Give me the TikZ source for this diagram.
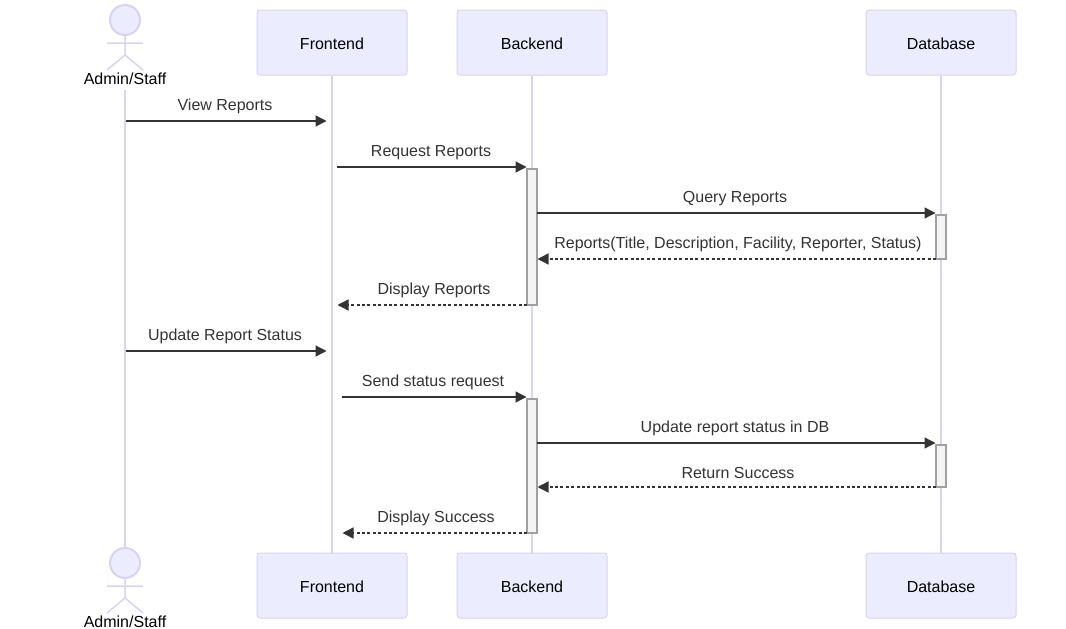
\documentclass[tikz,border=0pt]{standalone}
\usepackage{fontspec}
\setmainfont{Liberation Sans}
\usetikzlibrary{arrows.meta}
\definecolor{lifeC}{HTML}{DAD2F3}
\definecolor{fillC}{HTML}{ECECFF}
\definecolor{msgC}{HTML}{333333}
\definecolor{actC}{HTML}{F4F4F4}
\definecolor{actB}{HTML}{A0A0A0}
\tikzset{
  x=1pt,y=-1pt,
  box/.style={draw=lifeC,fill=fillC,line width=1pt,rounded corners=3pt,minimum width=150pt,minimum height=65pt,inner sep=0pt},
  boxname/.style={inner sep=0pt,anchor=base,font=\fontsize{16}{16}\selectfont,text=black},
  lifeline/.style={draw=lifeC,line width=1.5pt},
  actorline/.style={draw=lifeC,line width=1.5pt},
  actorhead/.style={draw=lifeC,fill=fillC,line width=2pt,circle,minimum size=30pt,inner sep=0pt},
  actorname/.style={inner sep=0pt,anchor=base,font=\fontsize{16}{16}\selectfont,text=black},
  activation/.style={draw=actB,fill=actC,line width=1.3pt,minimum width=10pt,inner sep=0pt},
  msg/.style={draw=msgC,line width=1.3pt,-{Triangle[length=11pt,width=11pt,fill=msgC]}},
  msgdash/.style={msg,dash pattern=on 3pt off 2.4pt},
  msglabel/.style={inner sep=0pt,anchor=base,font=\fontsize{16}{16}\selectfont,text=msgC},
}
\begin{document}
\begin{tikzpicture}
\useasboundingbox (0,0) rectangle (1066,629);
% actors and boxes
\node[actorhead] (headT) at (125,20) {};
\node[actorname] (nameT) at (125,84) {Admin/Staff};
\node[box] (feT) at (332,42.5) {};
\node[box] (beT) at (532,42.5) {};
\node[box] (dbT) at (941,42.5) {};
\node[boxname] (feTn) at (332,49) {Frontend};
\node[boxname] (beTn) at (532,49) {Backend};
\node[boxname] (dbTn) at (941,49) {Database};
\node[actorhead] (headB) at (125,563) {};
\node[actorname] (nameB) at (125,627) {Admin/Staff};
\node[box] (feB) at (332,585.5) {};
\node[box] (beB) at (532,585.5) {};
\node[box] (dbB) at (941,585.5) {};
\node[boxname] (feBn) at (332,592) {Frontend};
\node[boxname] (beBn) at (532,592) {Backend};
\node[boxname] (dbBn) at (941,592) {Database};
% stick figures
\coordinate (armLT) at (107,43); \coordinate (armRT) at (143,43);
\coordinate (hipT) at (125,55); \coordinate (legLT) at (107,70); \coordinate (legRT) at (143,70);
\coordinate (armLB) at (107,586); \coordinate (armRB) at (143,586);
\coordinate (hipB) at (125,598); \coordinate (legLB) at (107,613); \coordinate (legRB) at (143,613);
\draw[actorline] (headT.south) -- (hipT) (armLT) -- (armRT) (legLT) -- (hipT) -- (legRT);
\draw[actorline] (headB.south) -- (hipB) (armLB) -- (armRB) (legLB) -- (hipB) -- (legRB);
% lifelines
\coordinate (adminStart) at (125,90);
\draw[lifeline] (adminStart) -- (headB.north);
\draw[lifeline] (feT.south) -- (feB.north);
\draw[lifeline] (beT.south) -- (beB.north);
\draw[lifeline] (dbT.south) -- (dbB.north);
% activations
\node[activation,minimum height=136pt] (a1) at (532,237) {};
\node[activation,minimum height=44pt] (a2) at (941,237) {};
\node[activation,minimum height=134pt] (a3) at (532,466) {};
\node[activation,minimum height=42pt] (a4) at (941,466) {};
% message ends
\coordinate (m1a) at (126,121); \coordinate (m1b) at (326.5,121);
\coordinate (m2a) at (337,167); \coordinate (m2b) at (526.5,167);
\coordinate (m3a) at (537,213); \coordinate (m3b) at (935.5,213);
\coordinate (m4a) at (936,259); \coordinate (m4b) at (537.5,259);
\coordinate (m5a) at (527,305); \coordinate (m5b) at (337.5,305);
\coordinate (m6a) at (126,351); \coordinate (m6b) at (326.5,351);
\coordinate (m7a) at (342,397); \coordinate (m7b) at (526.5,397);
\coordinate (m8a) at (537,443); \coordinate (m8b) at (935.5,443);
\coordinate (m9a) at (936,487); \coordinate (m9b) at (537.5,487);
\coordinate (m10a) at (527,533); \coordinate (m10b) at (342.5,533);
\draw[msg] (m1a) -- (m1b);
\draw[msg] (m2a) -- (m2b);
\draw[msg] (m3a) -- (m3b);
\draw[msgdash] (m4a) -- (m4b);
\draw[msgdash] (m5a) -- (m5b);
\draw[msg] (m6a) -- (m6b);
\draw[msg] (m7a) -- (m7b);
\draw[msg] (m8a) -- (m8b);
\draw[msgdash] (m9a) -- (m9b);
\draw[msgdash] (m10a) -- (m10b);
% labels
\node[msglabel] (l1) at (225,110.5) {View Reports};
\node[msglabel] (l2) at (431,156.5) {Request Reports};
\node[msglabel] (l3) at (735,202.5) {Query Reports};
\node[msglabel] (l4) at (738,248.5) {Reports(Title, Description, Facility, Reporter, Status)};
\node[msglabel] (l5) at (434,294.5) {Display Reports};
\node[msglabel] (l6) at (225,340.5) {Update Report Status};
\node[msglabel] (l7) at (433,386.5) {Send status request};
\node[msglabel] (l8) at (735,432.5) {Update report status in DB};
\node[msglabel] (l9) at (738,478.5) {Return Success};
\node[msglabel] (l10) at (436,522.5) {Display Success};
\end{tikzpicture}
\end{document}
